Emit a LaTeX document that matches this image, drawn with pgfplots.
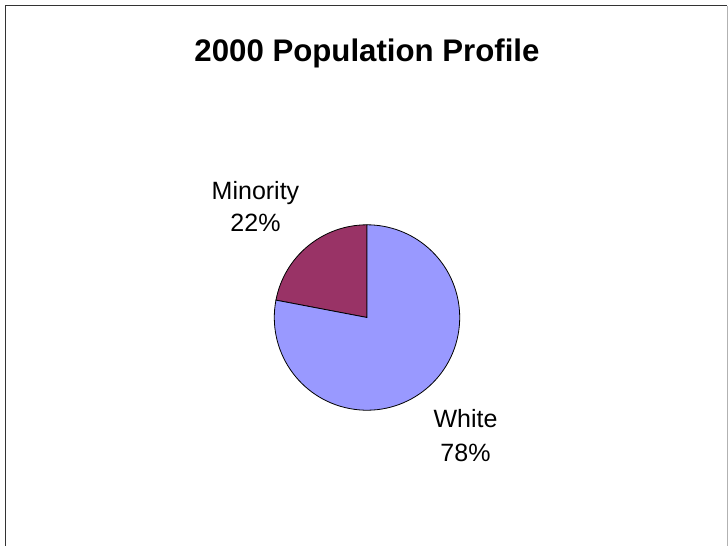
\documentclass[border=0pt]{standalone}
\usepackage{pgfplots}
\pgfplotsset{compat=1.18}
\usepackage{pgfplotstable}
\usepackage{fontspec}
\setmainfont{Liberation Sans}
\definecolor{whiteslice}{HTML}{9999FF}
\definecolor{minorityslice}{HTML}{993366}

% shares in percent, slices go counterclockwise from 12 o'clock
\pgfplotstableread{
label share
Minority 22
White 78
}\piedata

\begin{document}
\begin{tikzpicture}
\pgfplotstablegetelem{0}{share}\of\piedata \let\shareA\pgfplotsretval
\pgfplotstablegetelem{1}{share}\of\piedata \let\shareB\pgfplotsretval
\pgfmathsetmacro{\angA}{90+3.6*\shareA}
\pgfmathsetmacro{\angB}{\angA+3.6*\shareB}
\path[use as bounding box] (0,0) rectangle (728pt,546pt);
\begin{axis}[
    width=728pt, height=546pt, scale only axis,
    hide axis, clip=false,
    xmin=0, xmax=728, ymin=0, ymax=546, y dir=reverse,
  ]
  % chart frame (bottom edge cut off)
  \draw[black!80, line width=1.2pt] (axis cs:5.5,546) -- (axis cs:5.5,5.5) -- (axis cs:727,5.5);
  \draw[black!30, line width=0.8pt] (axis cs:727,5.5) -- (axis cs:727,546);

  % pie
  \filldraw[fill=minorityslice, draw=black, line width=0.8pt]
    (axis cs:367,317.5) -- ++(90:92.7pt)
    arc[start angle=90, end angle=\angA, radius=92.7pt] -- cycle;
  \filldraw[fill=whiteslice, draw=black, line width=0.8pt]
    (axis cs:367,317.5) -- ++(\angA:92.7pt)
    arc[start angle=\angA, end angle=\angB, radius=92.7pt] -- cycle;

  % title and data labels
  \node[anchor=base, font=\bfseries\fontsize{31.2}{36}\selectfont] at (axis cs:367,61.7) {2000 Population Profile};
  \node[anchor=base, font=\fontsize{25}{30}\selectfont] at (axis cs:255.5,199) {Minority};
  \node[anchor=base, font=\fontsize{25}{30}\selectfont] at (axis cs:255.5,231.7) {\shareA\%};
  \node[anchor=base, font=\fontsize{25}{30}\selectfont] at (axis cs:465.5,427) {White};
  \node[anchor=base, font=\fontsize{25}{30}\selectfont] at (axis cs:465.5,461) {\shareB\%};
\end{axis}
\end{tikzpicture}
\end{document}
